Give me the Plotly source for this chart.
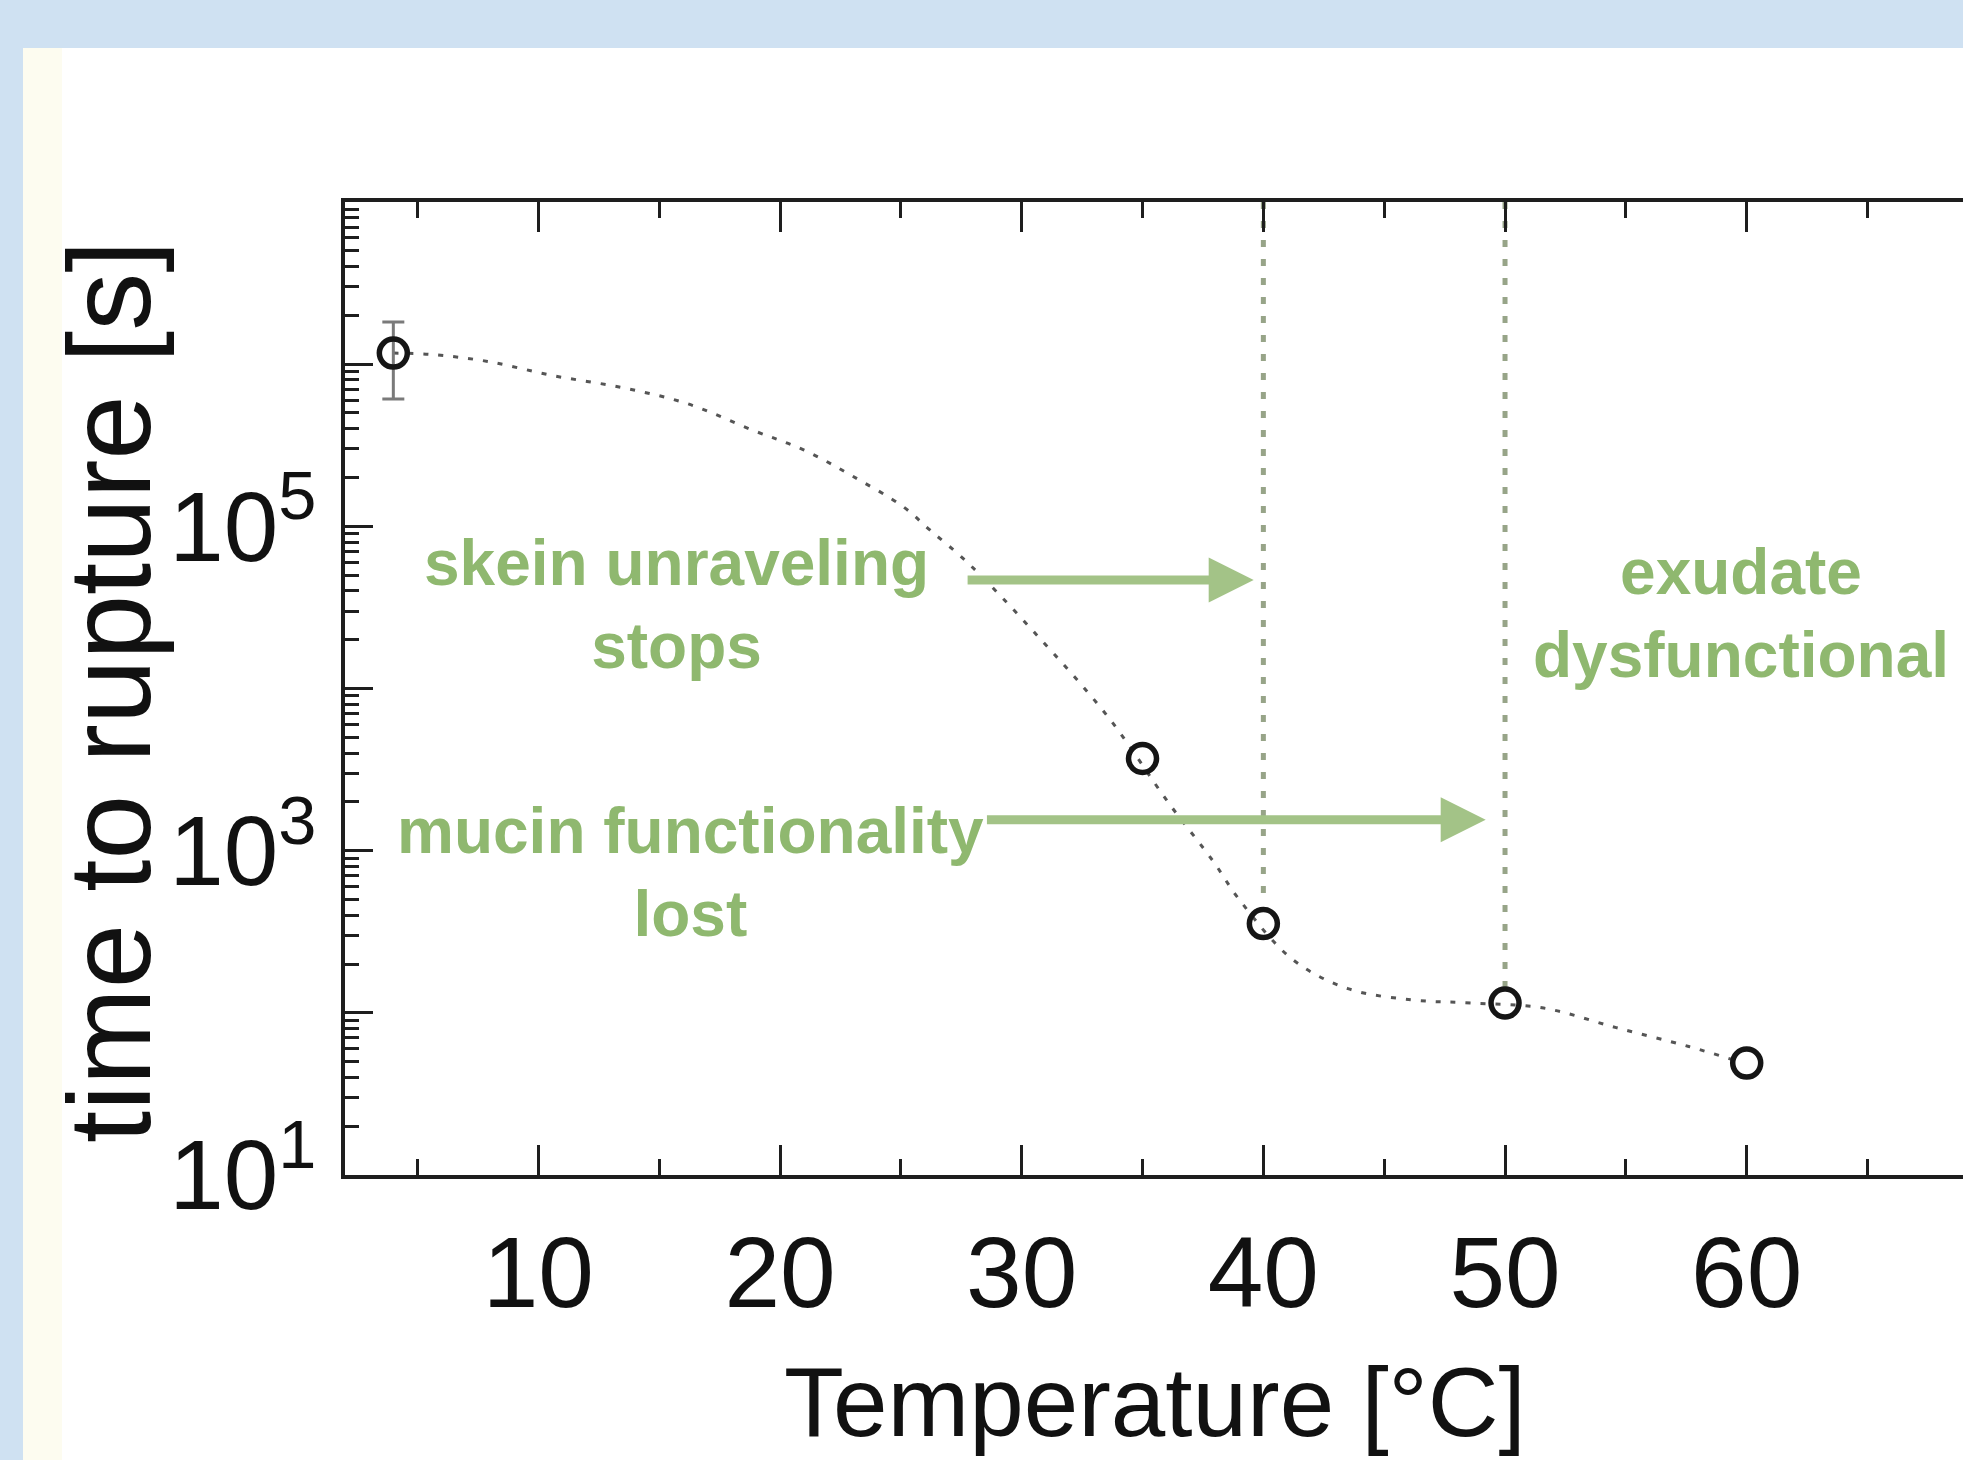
import math
import plotly.graph_objects as go

W, H = 1963, 1460

# ---------------- data ----------------
temp_points = [4, 35, 40, 50, 60]
rupture_time = [1.17e6, 3700, 355, 115, 49]
err_temp = [4]
err_time = [1.17e6]
err_plus = [6.5e5]
err_minus = [5.6e5]

fit_temp = [4.0, 5.5, 7.9, 10.6, 13.4, 16.1, 18.9, 21.0, 23.0, 25.1, 26.2, 27.8,
            30.5, 33.6, 36.1, 37.9, 39.0, 41.2, 43.5, 46.2, 48.6, 51.6, 54.6, 57.6, 59.5]
fit_time = [1.17e6, 1.15e6, 1.04e6, 8.5e5, 7.2e5, 5.75e5, 3.9e5, 2.95e5, 2.04e5,
            1.32e5, 9.5e4, 5.9e4, 2.24e4, 6600, 1950, 870, 500, 214, 141, 120, 115,
            107, 81, 62, 51]

bound_temp = [40, 50]
bound_top = [1e7, 1e7]
bound_bottom = [500, 141]

x_tickvals = [10, 20, 30, 40, 50, 60]
x_ticktext = ["10", "20", "30", "40", "50", "60"]
y_tickvals = [1e1, 1e2, 1e3, 1e4, 1e5, 1e6, 1e7]
y_ticktext = ["10<sup>1</sup>", "", "10<sup>3</sup>", "", "10<sup>5</sup>", "", ""]

labels = ["skein unraveling<br>stops", "mucin functionality<br>lost", "exudate<br>dysfunctional"]
label_x = [15.7, 16.3, 59.75]
label_y = [3.3e4, 730, 2.9e4]

arrow_tail_x = [27.7, 28.5]
arrow_head_x = [39.6, 49.2]
arrow_y = [4.67e4, 1.55e3]

x_title = "Temperature [°C]"
y_title = "time to rupture [s]"

# ---------------- style ----------------
FONT = "Liberation Sans, Arial, Helvetica, sans-serif"
GREEN_TXT = "#8fb86f"
GREEN_ARR = "#a3c387"
AXC = "#1e1e1e"

fig = go.Figure()

# fitted dotted curve
fig.add_trace(go.Scatter(x=fit_temp, y=fit_time, mode="lines",
                         line=dict(color="#555555", width=3, dash="5px,10px", shape="spline"),
                         hoverinfo="skip", showlegend=False))

# vertical boundary lines
for xb, yt, yb in zip(bound_temp, bound_top, bound_bottom):
    fig.add_trace(go.Scatter(x=[xb, xb], y=[yt, yb], mode="lines",
                             line=dict(color="#97a488", width=5, dash="7px,12px"),
                             hoverinfo="skip", showlegend=False))

# error bar
fig.add_trace(go.Scatter(x=err_temp, y=err_time, mode="markers",
                         marker=dict(size=1, color="rgba(0,0,0,0)"),
                         error_y=dict(type="data", array=err_plus, arrayminus=err_minus,
                                      color="#7a7a7a", thickness=3, width=11),
                         hoverinfo="skip", showlegend=False))

# data points
fig.add_trace(go.Scatter(x=temp_points, y=rupture_time, mode="markers",
                         marker=dict(symbol="circle-open", size=28, color="#151515",
                                     line=dict(width=5.5, color="#151515")),
                         showlegend=False))

annotations = []
for t, xx, yy in zip(labels, label_x, label_y):
    annotations.append(dict(x=xx, y=math.log10(yy), xref="x", yref="y", text=t,
                            showarrow=False, xanchor="center", yanchor="middle",
                            align="center",
                            font=dict(family=FONT, size=64, color=GREEN_TXT, weight="bold")))
for tx, hx, yy in zip(arrow_tail_x, arrow_head_x, arrow_y):
    ly = math.log10(yy)
    annotations.append(dict(x=hx, y=ly, ax=tx, ay=ly, xref="x", yref="y",
                            axref="x", ayref="y", text="", showarrow=True,
                            arrowhead=2, arrowsize=1, arrowwidth=9,
                            arrowcolor=GREEN_ARR, standoff=0, startstandoff=0))
# axis titles
annotations.append(dict(x=1155 / W, y=1 - 1402 / H, xref="paper", yref="paper",
                        text=x_title, showarrow=False, xanchor="center", yanchor="middle",
                        font=dict(family=FONT, size=98, color="#111")))
annotations.append(dict(x=110 / W, y=1 - 692 / H, xref="paper", yref="paper",
                        text=y_title, showarrow=False, textangle=-90,
                        xanchor="center", yanchor="middle",
                        font=dict(family=FONT, size=116, color="#111")))

shapes = [
    dict(type="rect", xref="paper", yref="paper", x0=23 / W, x1=1, y0=0, y1=1 - 48 / H,
         fillcolor="white", line=dict(width=0), layer="below"),
    dict(type="rect", xref="paper", yref="paper", x0=23 / W, x1=62 / W, y0=0, y1=1 - 48 / H,
         fillcolor="#fdfcf0", line=dict(width=0), layer="below"),
]

fig.update_layout(
    width=W, height=H,
    margin=dict(l=0, r=0, t=0, b=0),
    paper_bgcolor="#cfe1f2",
    plot_bgcolor="white",
    shapes=shapes,
    annotations=annotations,
    showlegend=False,
    xaxis=dict(domain=[345 / W, 1], range=[2.0, 68.95], automargin=False,
               showgrid=False, zeroline=False,
               showline=True, linecolor=AXC, linewidth=4, mirror="ticks",
               ticks="inside", ticklen=30, tickwidth=3, tickcolor=AXC,
               tickvals=x_tickvals, ticktext=x_ticktext,
               tickfont=dict(family=FONT, size=100, color="#111"),
               ticklabelstandoff=8,
               minor=dict(dtick=5, tick0=0, ticks="inside", ticklen=16, tickwidth=3,
                          tickcolor=AXC, showgrid=False)),
    yaxis=dict(type="log", domain=[(H - 1175) / H, (H - 202) / H], range=[1, 7],
               automargin=False, showgrid=False, zeroline=False,
               showline=True, linecolor=AXC, linewidth=4, mirror=True,
               ticks="inside", ticklen=28, tickwidth=3, tickcolor=AXC,
               tickvals=y_tickvals, ticktext=y_ticktext,
               tickfont=dict(family=FONT, size=98, color="#111"),
               ticklabelstandoff=5,
               minor=dict(dtick="D1", ticks="inside", ticklen=14, tickwidth=3,
                          tickcolor=AXC, showgrid=False)),
)

fig.write_html("out.html", config={"displayModeBar": False},
               post_script="document.body.style.margin='0';")
